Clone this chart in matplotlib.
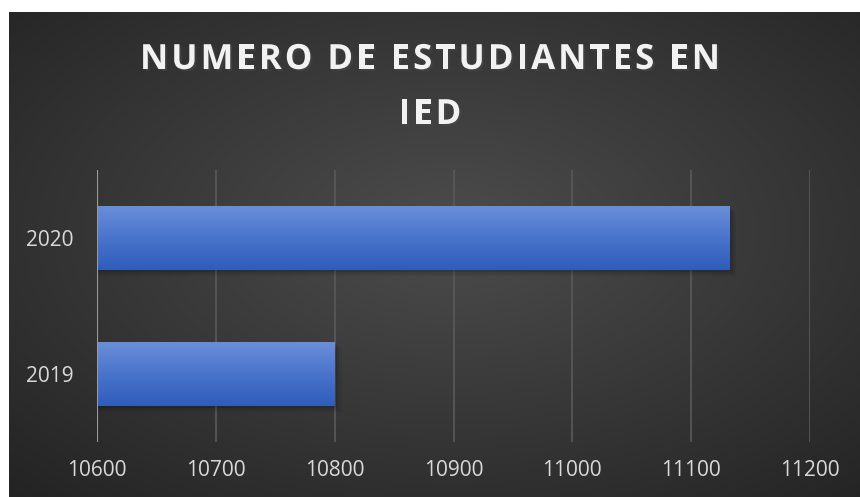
import matplotlib

matplotlib.use("Agg")
import matplotlib.pyplot as plt
import matplotlib.patheffects as pe
import numpy as np
from matplotlib.colors import LinearSegmentedColormap

years = ["2019", "2020"]
students = [10800, 11132]
x_ticks = [10600, 10700, 10800, 10900, 11000, 11100, 11200]
title_lines = ["NUMERO DE ESTUDIANTES EN", "IED"]

W, H = 860, 497
fig = plt.figure(figsize=(W / 100, H / 100), dpi=100)
fig.patch.set_facecolor("white")

# dark radial-gradient backdrop (top/left white border like the original)
bg = fig.add_axes([9 / W, 0, 1 - 9 / W, 1 - 12 / H])
bg.set_axis_off()
yy, xx = np.mgrid[0:1:300j, 0:1:500j]
r = np.sqrt(((xx - 0.52) / 0.75) ** 2 + ((yy - 0.45) / 0.75) ** 2)
shade = np.clip(0.30 - 0.16 * r, 0.14, 0.30)
bg.imshow(np.dstack([shade] * 3), aspect="auto", extent=[0, 1, 0, 1])

ax = fig.add_axes([97 / W, 55 / H, 713 / W, 272 / H])
ax.set_facecolor("none")
ypos = np.arange(len(years))
bar_h = 0.47

# soft shadow below bars
for y, v in zip(ypos, students):
    for k, a in enumerate([0.10, 0.08, 0.06]):
        off = 0.015 * (k + 1)
        ax.barh(y - off, v - 10600 + 2 * (k + 1), left=10600, height=bar_h,
                color="black", alpha=a, zorder=2, linewidth=0)

bars = ax.barh(ypos, [v - 10600 for v in students], left=10600, height=bar_h,
               color="#4472c4", zorder=3, linewidth=0)
grad = np.linspace(0, 1, 100)[:, None]
cmap = LinearSegmentedColormap.from_list("barblue", ["#6a8ed8", "#4a74cc", "#2f5dba"])
for b in bars:
    x0, y0 = b.get_x(), b.get_y()
    im = ax.imshow(grad, cmap=cmap, aspect="auto", zorder=4,
                   extent=[x0, x0 + b.get_width(), y0, y0 + b.get_height()])
    im.set_clip_path(b)

ax.set_xlim(10600, 11200)
ax.set_ylim(-0.5, 1.5)
ax.set_xticks(x_ticks)
ax.set_yticks(ypos)
ax.set_yticklabels(years)
ax.grid(axis="x", color="#5a5a5a", linewidth=1.2, zorder=1)
ax.axvline(10600, color="#9a9a9a", linewidth=1.5, zorder=5)
for s in ax.spines.values():
    s.set_visible(False)
ax.tick_params(length=0, colors="#d9d9d9", labelsize=15)
ax.tick_params(axis="y", pad=17)
ax.tick_params(axis="x", pad=13)
for lbl in ax.get_xticklabels() + ax.get_yticklabels():
    lbl.set_fontfamily("Open Sans")


def spaced_title(line, y_px, spacing_px):
    """Draw a line char by char with extra letter spacing, centred."""
    renderer = fig.canvas.get_renderer()
    kw = dict(color="#f2f2f2", fontsize=25, fontweight="bold", family="Open Sans",
              va="center", ha="left")
    probe = fig.text(0, 0, "", **kw)
    offsets = []
    for i in range(len(line) + 1):
        probe.set_text(line[:i] + "|")
        w_bar = probe.get_window_extent(renderer).width
        probe.set_text("|")
        offsets.append(w_bar - probe.get_window_extent(renderer).width)
    probe.remove()
    total = offsets[-1] + spacing_px * (len(line) - 1)
    start = W / 2 - total / 2
    for i, ch in enumerate(line):
        x = start + offsets[i] + spacing_px * i
        fig.text(x / W, 1 - y_px / H, ch, **kw,
                 path_effects=[pe.withSimplePatchShadow(offset=(1.5, -1.5), alpha=0.5)])


spaced_title(title_lines[0], 60, 3.0)
spaced_title(title_lines[1], 115, 3.0)

fig.savefig("out.png", dpi=100)
